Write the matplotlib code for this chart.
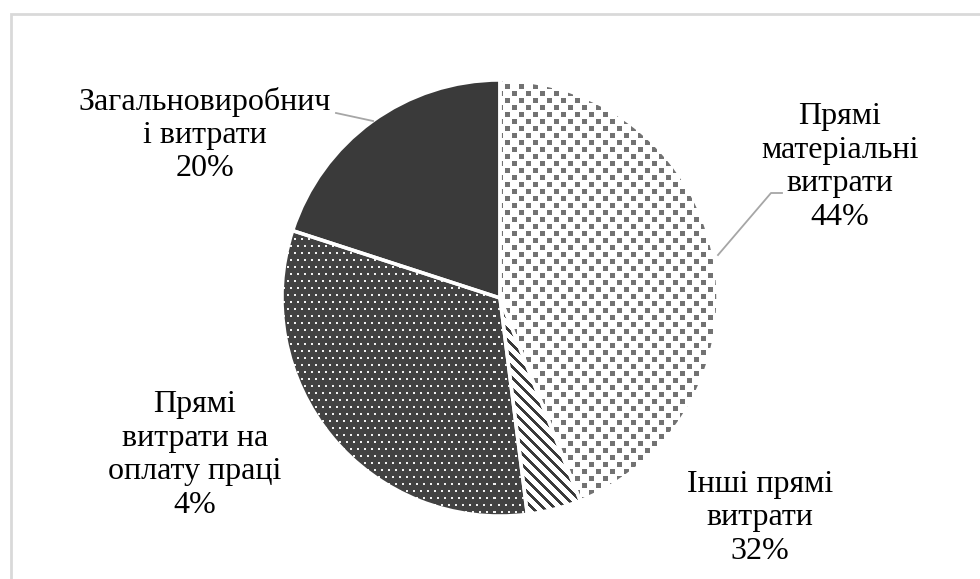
import numpy as np
import matplotlib
matplotlib.use("Agg")
import matplotlib.pyplot as plt
from matplotlib.patches import Rectangle

# Cost structure, slices in clockwise order from 12 o'clock
categories = ["Прямі матеріальні витрати", "Інші прямі витрати",
              "Прямі витрати на оплату праці", "Загальновиробничі витрати"]
shares = [44, 4, 32, 20]

# Data label texts as printed next to the slices
label_texts = ["Прямі\nматеріальні\nвитрати\n44%",
               "Інші прямі\nвитрати\n32%",
               "Прямі\nвитрати на\nоплату праці\n4%",
               "Загальновиробнич\nі витрати\n20%"]

W, H = 980, 579
plt.rcParams["font.family"] = ["Liberation Serif", "DejaVu Serif"]

fig = plt.figure(figsize=(W / 100, H / 100), dpi=100)
ax = fig.add_axes([0, 0, 1, 1])

center = (500, H - 298)
radius = 218
wedges, _ = ax.pie(shares, startangle=90, counterclock=False,
                   radius=radius, center=center,
                   wedgeprops=dict(edgecolor="white", linewidth=2.5,
                                   facecolor="none"))
ax.set_xlim(0, W)
ax.set_ylim(0, H)
ax.set_aspect("auto")
ax.axis("off")


# --- fill textures (pixel grids) ---
yy, xx = np.mgrid[0:H, 0:W]


def rgb(base, mask, col):
    img = np.ones((H, W, 3)) * np.array(base)
    img[mask] = col
    return img


# confetti of grey squares on white
cell = 14
u = xx % cell
v = yy % cell
sq = (u < 5) & (v < 5)
sq2 = ((u - 7) % cell < 5) & ((v - 7) % cell < 5)
confetti = rgb((1, 1, 1), sq | sq2, (0.45, 0.45, 0.45))

# diagonal dark stripes on white
stripes = rgb((1, 1, 1), ((xx - yy) % 11) < 4, (0.23, 0.23, 0.23))

# white dots on dark grey, staggered
row = yy // 7
dots_mask = ((yy % 7) < 2) & (((xx + (row % 2) * 4) % 7) < 2)
dots = rgb((0.26, 0.26, 0.26), dots_mask, (0.95, 0.95, 0.95))

solid = rgb((0.23, 0.23, 0.23), np.zeros((H, W), bool), (0, 0, 0))

for w, tex in zip(wedges, [confetti, stripes, dots, solid]):
    im = ax.imshow(tex, extent=(0, W, 0, H), origin="upper",
                   interpolation="nearest", zorder=1)
    im.set_clip_path(w)
    w.set_zorder(2)

# labels
pos = [(840, H - 167), (760, H - 518), (195, H - 455), (205, H - 135)]
for (x, y), t in zip(pos, label_texts):
    ax.text(x, y, t, ha="center", va="center", fontsize=23,
            linespacing=1.2, color="black", zorder=3)

# leader lines
lc = "#a6a6a6"
ax.plot([336, 373], [H - 113, H - 121], color=lc, lw=1.3, zorder=3)
ax.plot([782, 771, 718], [H - 193, H - 193, H - 255], color=lc, lw=1.3,
        zorder=3)

# chart area border
fig.patches.append(Rectangle((11 / W, -0.1), 1.2, (H - 14) / H + 0.1,
                             transform=fig.transFigure, fill=False,
                             edgecolor="#d9d9d9", linewidth=2))

fig.savefig("out.png", dpi=100)
